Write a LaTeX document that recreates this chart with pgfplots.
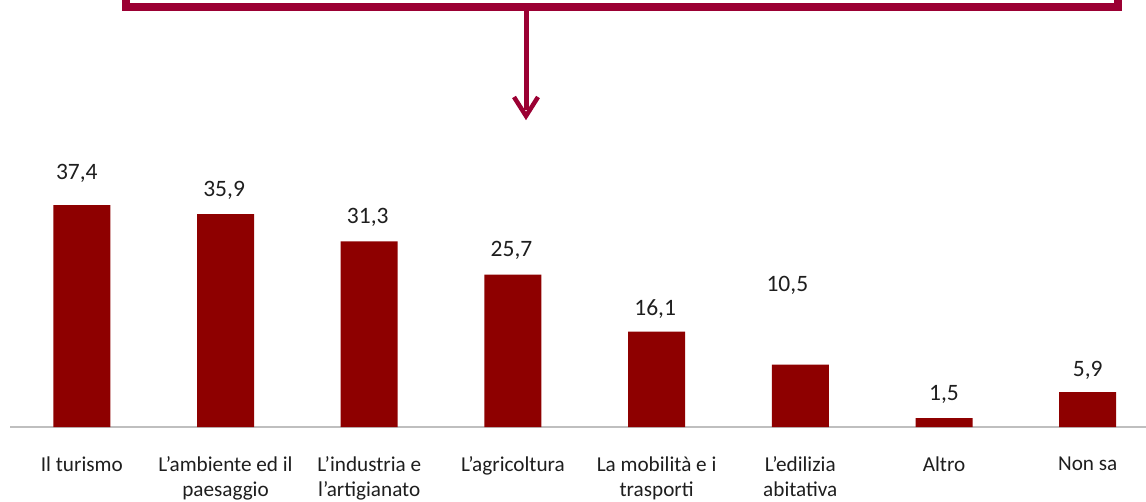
\documentclass[border=0pt]{standalone}
\usepackage{pgfplots}
\pgfplotsset{compat=1.18}
\usepackage{fontspec}
\setmainfont{Carlito}
\definecolor{barred}{RGB}{142,0,0}
\definecolor{framec}{RGB}{155,0,51}
\definecolor{axgray}{RGB}{191,191,191}
\definecolor{txt}{RGB}{30,30,30}
\begin{document}
\begin{tikzpicture}[x=1pt,y=1pt]
\useasboundingbox (0,0) rectangle (1146,-501);
\clip (0,0) rectangle (1146,-501);
\draw[framec, line width=8pt] (126,60) -- (126,-7) -- (1118,-7) -- (1118,60);
\draw[framec, line width=5pt] (526,-7) -- (526,-110);
\draw[framec, line width=4.5pt] (514,-97) -- (526,-116) -- (538,-97);
\draw[axgray, line width=2pt] (10,-427) -- (1160,-427);
\begin{axis}[
  at={(10pt,-427pt)}, anchor=south west,
  scale only axis, width=1164pt, height=416pt,
  xmin=-0.5, xmax=7.6, ymin=0, ymax=70.15,
  axis x line*=bottom, axis y line=none,
  x axis line style={draw=none},
  xtick={0,...,7}, major tick length=0pt, ytick=\empty,
  xticklabels={Il turismo, {L’ambiente ed il\\paesaggio}, {L’industria e\\l’artigianato}, L’agricoltura, {La mobilità e i\\trasporti}, {L’edilizia\\abitativa}, Altro, Non sa},
  xticklabel style={align=center, font=\fontsize{21.2}{25.5}\selectfont, text=txt, anchor=north, yshift=-26pt},
  clip=false,
]
\addplot[ybar, bar width=57pt, fill=barred, draw=none] coordinates {
(0,37.4) (1,35.9) (2,31.3) (3,25.7) (4,16.1) (5,10.5) (6,1.5) (7,5.9)};
\addplot[only marks, mark=none, nodes near coords, point meta=explicit symbolic,
  every node near coord/.append style={anchor=center, font=\fontsize{23.5}{27}\selectfont, text=txt}]
  table[meta=lab, row sep=\\] {
x y lab\\
-0.035 42.83 {37,4}\\
0.99 39.97 {35,9}\\
1.99 35.41 {31,3}\\
2.99 29.85 {25,7}\\
3.99 19.90 {16,1}\\
4.91 23.95 {10,5}\\
6.0 5.56 {1,5}\\
7.0 9.61 {5,9}\\
};
\end{axis}
\end{tikzpicture}
\end{document}
